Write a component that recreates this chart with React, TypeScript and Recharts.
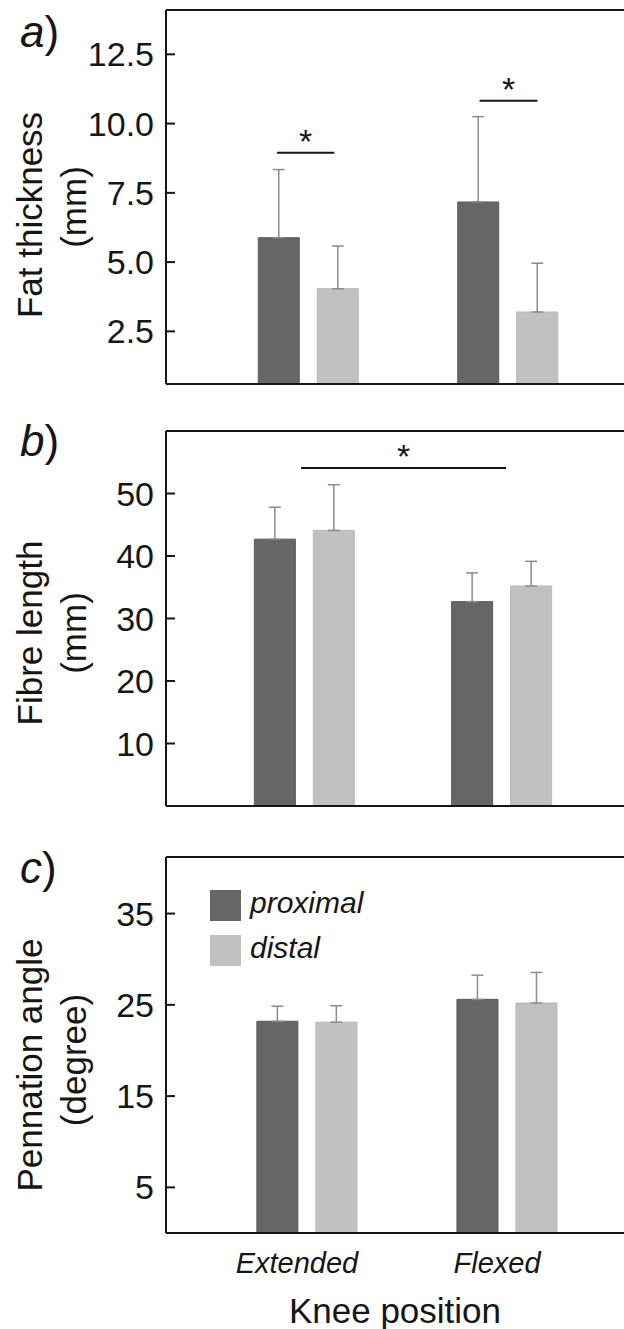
import React from 'react';
import { BarChart, Bar, XAxis, YAxis, ErrorBar, ReferenceLine, Legend } from 'recharts';

const FONT = '"Liberation Sans", Arial, Helvetica, sans-serif';
const INK = '#161616';
const AXIS_X = 166;

// categories (knee position) and their positions on the numeric x axis
const positions = ['Extended', 'Flexed'];
const positionX = [1, 2];

// a) Fat thickness (mm)
const fatProximal = [5.88, 7.17];
const fatProximalSD = [2.46, 3.08];
const fatDistal = [4.04, 3.2];
const fatDistalSD = [1.54, 1.76];
const fatTicks = [2.5, 5, 7.5, 10, 12.5];
const fatSig = [
  { from: 0.845, to: 1.132, y: 8.95 },
  { from: 1.86, to: 2.15, y: 10.82 },
];

// b) Fibre length (mm)
const fibreProximal = [42.7, 32.7];
const fibreProximalSD = [5.1, 4.6];
const fibreDistal = [44.1, 35.2];
const fibreDistalSD = [7.3, 3.95];
const fibreTicks = [10, 20, 30, 40, 50];
const fibreSig = [{ from: 0.985, to: 2.024, y: 54.1 }];

// c) Pennation angle (degree)
const pennProximal = [23.2, 25.6];
const pennProximalSD = [1.65, 2.65];
const pennDistal = [23.1, 25.2];
const pennDistalSD = [1.8, 3.35];
const pennTicks = [5, 15, 25, 35];
const pennSig: { from: number; to: number; y: number }[] = [];

const seriesNames = ['proximal', 'distal'];
const DARK = '#666666';
const LIGHT = '#c1c1c1';

type Sig = { from: number; to: number; y: number };

type PanelProps = {
  height: number;
  top: number;
  bottom: number;
  xDomain: [number, number];
  yDomain: [number, number];
  yTicks: number[];
  yFmt?: (v: number) => string;
  prox: number[];
  proxSD: number[];
  dist: number[];
  distSD: number[];
  sig: Sig[];
  letter: string;
  letterY: number;
  title1: string;
  title2: string;
  t1y: number;
  t2y: number;
  showX: boolean;
  legend: boolean;
};

const axisStyle = { stroke: INK, strokeWidth: 2 };

function YTick(props: any) {
  const { x, y, payload, fmt } = props;
  const v = payload?.value;
  return (
    <g>
      <rect x={AXIS_X} y={y - 1} width={9} height={2} fill={INK} />
      <text x={x} y={y} dy="0.355em" textAnchor="end" fontSize={34} fill={INK} fontFamily={FONT}>
        {fmt ? fmt(v) : v}
      </text>
    </g>
  );
}

function Panel(p: PanelProps) {
  const data = positions.map((name, i) => ({
    name,
    x: positionX[i],
    prox: p.prox[i],
    proxErr: [0, p.proxSD[i]],
    dist: p.dist[i],
    distErr: [0, p.distSD[i]],
  }));

  const yLabel = () => (
    <g>
      <text x={20} y={p.letterY} fontSize={44} fill={INK} fontFamily={FONT}>
        <tspan fontStyle="italic">{p.letter}</tspan>)
      </text>
      <text transform={`translate(41.5, ${p.t1y}) rotate(-90)`} textAnchor="middle" fontSize={35} fill={INK} fontFamily={FONT}>
        {p.title1}
      </text>
      <text transform={`translate(86, ${p.t2y}) rotate(-90)`} textAnchor="middle" fontSize={35} fill={INK} fontFamily={FONT}>
        {p.title2}
      </text>
    </g>
  );

  return (
    <BarChart
      width={624}
      height={p.height}
      data={data}
      margin={{ top: p.top, right: 0, bottom: p.bottom, left: 0 }}
      barGap={18}
      barSize={41}
    >
      <XAxis
        type="number"
        dataKey="x"
        domain={p.xDomain}
        ticks={positionX}
        allowDataOverflow
        tickLine={false}
        axisLine={axisStyle}
        height={p.showX ? 96 : 1}
        tickSize={0}
        tickMargin={19}
        tick={p.showX ? { fontSize: 29, fontStyle: 'italic', fill: INK, dx: -10 } : false}
        tickFormatter={(v: number) => positions[positionX.indexOf(v)] ?? ''}
        label={p.showX ? { value: 'Knee position', position: 'insideBottom', offset: 6, fontSize: 35, fill: INK } : undefined}
      />
      <YAxis
        type="number"
        domain={p.yDomain}
        ticks={p.yTicks}
        interval={0}
        width={AXIS_X}
        allowDataOverflow
        tickSize={0}
        tickMargin={12}
        axisLine={axisStyle}
        tickLine={false}
        tick={(props: any) => <YTick {...props} fmt={p.yFmt} />}
        label={yLabel}
      />
      <ReferenceLine y={p.yDomain[1]} stroke={INK} strokeWidth={2} />
      {p.sig.map((s, i) => (
        <ReferenceLine
          key={i}
          segment={[{ x: s.from, y: s.y }, { x: s.to, y: s.y }]}
          stroke={INK}
          strokeWidth={2}
          label={{ value: '*', position: 'top', fontSize: 34, fill: INK, offset: 0 }}
        />
      ))}
      {p.legend && (
        <Legend
          layout="vertical"
          align="center"
          verticalAlign="middle"
          iconType="square"
          iconSize={31}
          itemSorter={(item: any) => seriesNames.indexOf(item.value)}
          wrapperStyle={{ left: 210, top: 40, lineHeight: '45px', fontSize: 30 }}
          formatter={(v: string) => (
            <span style={{ color: INK, fontStyle: 'italic', fontSize: 30, marginLeft: 5 }}>{v}</span>
          )}
        />
      )}
      <Bar dataKey="prox" name={seriesNames[0]} fill={DARK} stroke="#5a5a5a" strokeWidth={1} isAnimationActive={false}>
        <ErrorBar dataKey="proxErr" width={6} stroke="#8c8c8c" strokeWidth={1.5} direction="y" isAnimationActive={false} />
      </Bar>
      <Bar dataKey="dist" name={seriesNames[1]} fill={LIGHT} stroke="#b8b8b8" strokeWidth={1} isAnimationActive={false}>
        <ErrorBar dataKey="distErr" width={6} stroke="#8c8c8c" strokeWidth={1.5} direction="y" isAnimationActive={false} />
      </Bar>
    </BarChart>
  );
}

export default function App() {
  return (
    <div style={{ fontFamily: FONT, width: 624, background: '#fff' }}>
      <style>{'body{margin:0;background:#fff}'}</style>
      <Panel height={400} top={10} bottom={15} xDomain={[0.2882, 2.584]} yDomain={[0.6, 14.1]} yTicks={fatTicks}
        yFmt={(v: number) => v.toFixed(1)} prox={fatProximal} proxSD={fatProximalSD} dist={fatDistal} distSD={fatDistalSD}
        sig={fatSig} letter="a" letterY={47} title1="Fat thickness" title2="(mm)" t1y={215} t2y={207} showX={false} legend={false} />
      <Panel height={440} top={31} bottom={33} xDomain={[0.3006, 2.622]} yDomain={[0, 60]} yTicks={fibreTicks}
        prox={fibreProximal} proxSD={fibreProximalSD} dist={fibreDistal} distSD={fibreDistalSD}
        sig={fibreSig} letter="b" letterY={56} title1="Fibre length" title2="(mm)" t1y={233} t2y={233} showX={false} legend={false} />
      <Panel height={489} top={17} bottom={0} xDomain={[0.2958, 2.5847]} yDomain={[0, 41.2]} yTicks={pennTicks}
        prox={pennProximal} proxSD={pennProximalSD} dist={pennDistal} distSD={pennDistalSD}
        sig={pennSig} letter="c" letterY={43} title1="Pennation angle" title2="(degree)" t1y={225} t2y={220} showX={true} legend={true} />
    </div>
  );
}
